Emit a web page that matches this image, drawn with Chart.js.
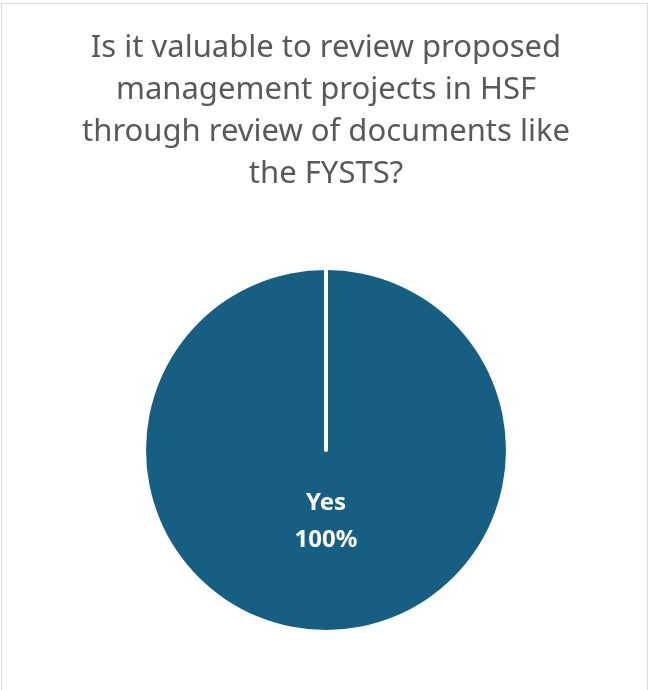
<!DOCTYPE html>
<html>
<head>
<meta charset="utf-8">
<script src="https://cdn.jsdelivr.net/npm/chart.js@4"></script>
<style>
  html, body { margin: 0; padding: 0; background: #fff; overflow: hidden; }
  #frame {
    position: absolute; left: 1px; top: 3px; width: 647px; height: 700px;
    border: 1.5px solid #d9d9d9; box-sizing: border-box; background: #fff;
  }
  #wrap { position: absolute; left: 0; top: 0; width: 649px; height: 690px; }
</style>
</head>
<body>
<div id="frame"></div>
<div id="wrap"><canvas id="pieChart"></canvas></div>
<script>
document.addEventListener('DOMContentLoaded', () => {

    // Respuestas de la encuesta
    const answers = ['Yes'];
    const shares = [100];
    const sliceColors = ['#175F82'];

    const titleLines = [
        'Is it valuable to review proposed',
        'management projects in HSF',
        'through review of documents like',
        'the FYSTS?'
    ];

    // Línea blanca que marca el inicio/fin de la porción
    const seamLine = {
        id: 'seamLine',
        afterDatasetsDraw(chart) {
            const arc = chart.getDatasetMeta(0).data[0];
            if (!arc) return;
            const { x, y, outerRadius, startAngle } = arc.getProps(['x', 'y', 'outerRadius', 'startAngle'], true);
            const ctx = chart.ctx;
            ctx.save();
            ctx.strokeStyle = '#ffffff';
            ctx.lineWidth = 4;
            ctx.lineCap = 'round';
            ctx.beginPath();
            ctx.moveTo(x, y);
            ctx.lineTo(x + Math.cos(startAngle) * (outerRadius + 2), y + Math.sin(startAngle) * (outerRadius + 2));
            ctx.stroke();
            ctx.restore();
        }
    };

    // Etiqueta de categoría y porcentaje dentro de la porción
    const sliceLabels = {
        id: 'sliceLabels',
        afterDatasetsDraw(chart) {
            const meta = chart.getDatasetMeta(0);
            const total = shares.reduce((a, b) => a + b, 0);
            const ctx = chart.ctx;
            ctx.save();
            ctx.fillStyle = '#ffffff';
            ctx.font = 'bold 24px "Noto Sans", "DejaVu Sans", sans-serif';
            ctx.textAlign = 'center';
            ctx.textBaseline = 'middle';
            meta.data.forEach((arc, i) => {
                const p = arc.getProps(['x', 'y', 'startAngle', 'endAngle', 'outerRadius'], true);
                const mid = (p.startAngle + p.endAngle) / 2;
                const r = p.outerRadius * 0.4;
                const cx = p.x + Math.cos(mid) * r;
                const cy = p.y + Math.sin(mid) * r;
                const pct = Math.round(shares[i] / total * 100) + '%';
                ctx.fillText(answers[i], cx, cy - 19);
                ctx.fillText(pct, cx, cy + 18);
            });
            ctx.restore();
        }
    };

    new Chart(document.getElementById('pieChart'), {
        type: 'pie',
        data: {
            labels: answers,
            datasets: [{
                data: shares,
                backgroundColor: sliceColors,
                borderWidth: 0
            }]
        },
        options: {
            responsive: true,
            maintainAspectRatio: false,
            animation: false,
            layout: { padding: { left: 3, right: 0, top: 0, bottom: 60 } },
            plugins: {
                legend: { display: false },
                tooltip: { enabled: false },
                title: {
                    display: true,
                    text: titleLines,
                    color: '#595959',
                    font: { family: '"Noto Sans", sans-serif', size: 31, weight: 'normal', lineHeight: 1.355 },
                    padding: { top: 27, bottom: 75 }
                }
            }
        },
        plugins: [seamLine, sliceLabels]
    });
});
</script>
</body>
</html>
